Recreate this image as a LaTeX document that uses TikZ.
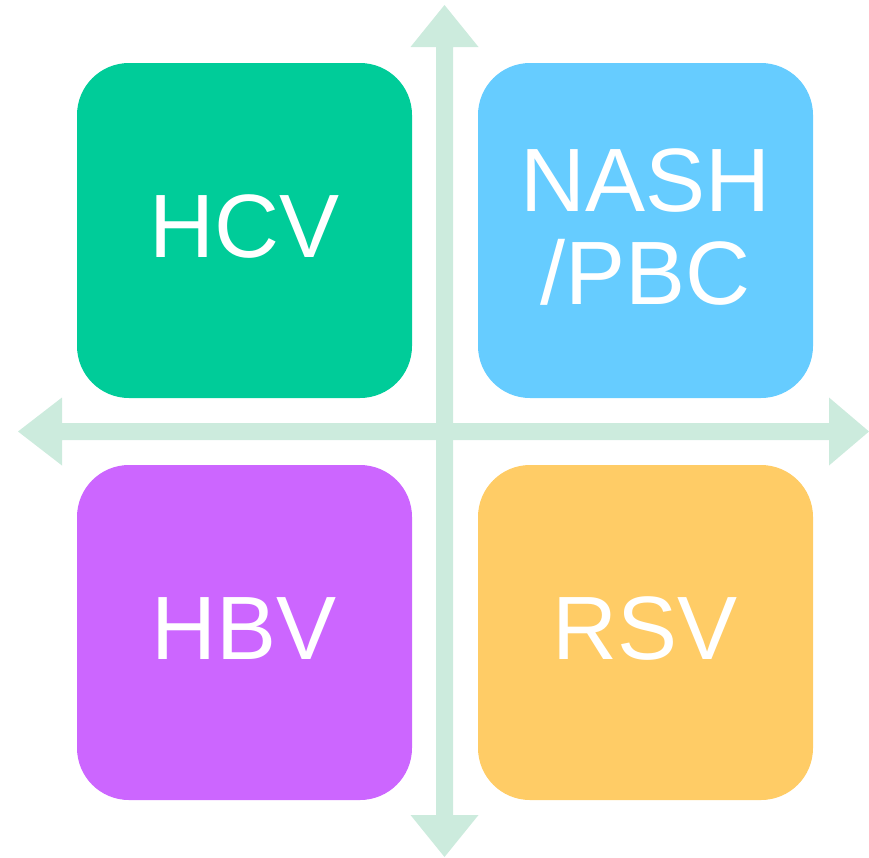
\documentclass[tikz,border=0pt]{standalone}
\usepackage{fontspec}
\setmainfont{Liberation Sans}
\definecolor{axiscol}{RGB}{204,235,221}
\definecolor{hcvcol}{RGB}{0,204,153}
\definecolor{nashcol}{RGB}{102,204,255}
\definecolor{hbvcol}{RGB}{204,102,255}
\definecolor{rsvcol}{RGB}{255,204,102}
\tikzset{
  quad/.style={rounded corners=52pt, minimum width=335pt, minimum height=335pt,
    inner sep=0pt, text=white, align=center, text depth=8pt,
    font=\fontsize{90}{93}\selectfont},
  axisfill/.style={fill=axiscol, draw=none}
}
\begin{document}
\begin{tikzpicture}[x=1pt,y=-1pt]
\useasboundingbox (0,0) rectangle (869,857);
% vertical double arrow
\fill[axisfill] (444.5,5) -- (478.5,47) -- (453,47) -- (453,815) -- (478.5,815)
  -- (444.5,857) -- (410.5,815) -- (436,815) -- (436,47) -- (410.5,47) -- cycle;
% horizontal double arrow
\fill[axisfill] (18,431.5) -- (62,397.5) -- (62,423) -- (829,423) -- (829,397.5)
  -- (869,431.5) -- (829,465.5) -- (829,440) -- (62,440) -- (62,465.5) -- cycle;
\node[quad, fill=hcvcol] (hcv) at (244.5,230.5) {HCV};
\node[quad, fill=nashcol] (nash) at (645.5,230.5) {NASH\\/PBC};
\node[quad, fill=hbvcol] (hbv) at (244.5,632.5) {HBV};
\node[quad, fill=rsvcol] (rsv) at (645.5,632.5) {RSV};
\end{tikzpicture}
\end{document}
